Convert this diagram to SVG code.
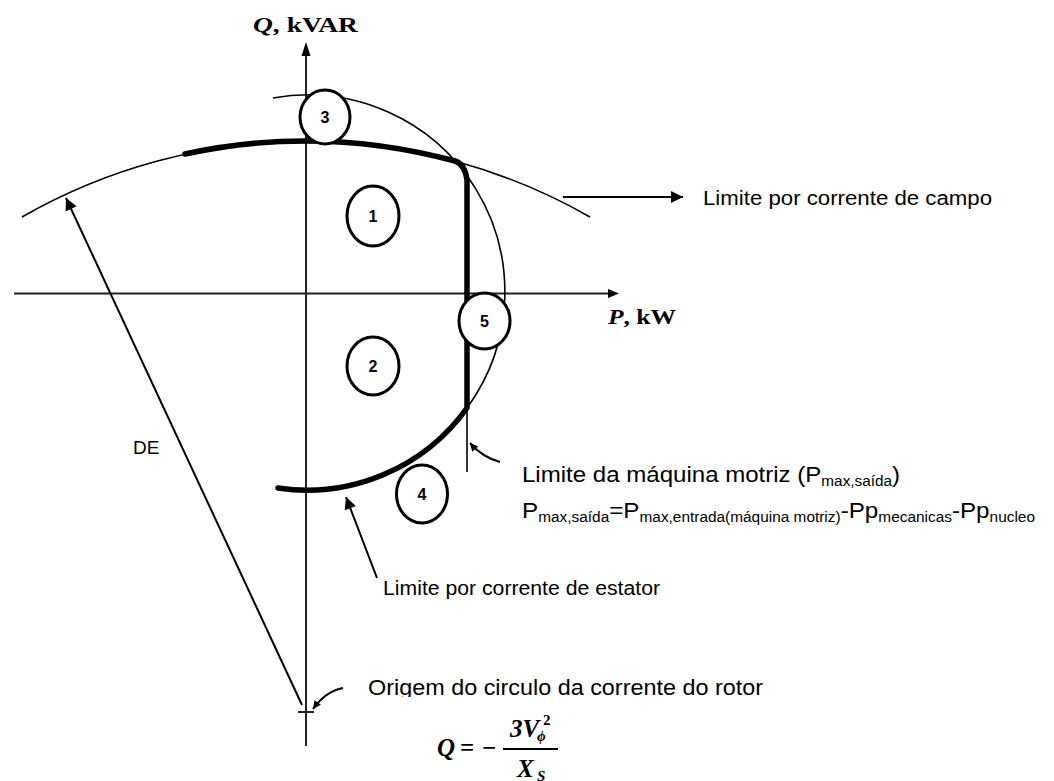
<svg xmlns="http://www.w3.org/2000/svg" width="1054" height="781" viewBox="0 0 1054 781">
<style>
.thin{fill:none;stroke:#000;stroke-width:1.6}
.thick{fill:none;stroke:#000;stroke-width:5.5;stroke-linecap:round;stroke-linejoin:round}
.axis{fill:none;stroke:#222;stroke-width:2}
.lead{fill:none;stroke:#000;stroke-width:2}
.node ellipse{fill:#fff;stroke:#000;stroke-width:3}
.node text{font-family:"Liberation Sans",Arial,sans-serif;font-weight:bold;font-size:16px;text-anchor:middle;fill:#000}
.lbl{font-family:"Liberation Sans",Arial,sans-serif;fill:#000}
.ser{font-family:"Liberation Serif","Times New Roman",serif;font-weight:bold;fill:#000}
</style>
<defs>
<marker id="ah" viewBox="0 0 10 10" refX="10" refY="5" markerWidth="16" markerHeight="12" markerUnits="userSpaceOnUse" orient="auto">
<path d="M0,0 L10,5 L0,10 z" fill="#000"/>
</marker>
<marker id="ahs" viewBox="0 0 10 10" refX="10" refY="5" markerWidth="10" markerHeight="8" markerUnits="userSpaceOnUse" orient="auto">
<path d="M0,0 L10,5 L0,10 z" fill="#000"/>
</marker>
<clipPath id="clipO"><rect x="350" y="660" width="500" height="37"/></clipPath>
</defs>
<rect width="1054" height="781" fill="#fff"/>

<g id="axes">
<line class="axis" x1="306" y1="54" x2="306" y2="746"/>
<path d="M306,42 L310.5,56 L301.5,56 z" fill="#000"/>
<line class="axis" x1="14" y1="293.5" x2="612" y2="293.5"/>
<path d="M619,293.5 L608,289 L608,298 z" fill="#000"/>
<line class="axis" x1="298" y1="712" x2="314" y2="712"/>
</g>

<g id="curves">
<path class="thin" d="M22,217 A571,571 0 0 1 590,217"/>
<path class="thin" d="M273,98 A197,197 0 0 1 467,408"/>
<line class="thin" x1="467" y1="408" x2="467" y2="472"/>
<path class="thick" d="M185,154 A571,571 0 0 1 455,161 Q465,164 467,180 L467,408 A197,197 0 0 1 278,488"/>
</g>

<g id="connectors">
<line class="lead" x1="302" y1="705" x2="66" y2="198" marker-end="url(#ah)"/>
<line class="lead" x1="563" y1="197" x2="683" y2="197" marker-end="url(#ah)"/>
<line class="lead" x1="377" y1="578" x2="346" y2="497" marker-end="url(#ah)"/>
<path class="lead" d="M500,462 Q482,457 470,443" marker-end="url(#ahs)"/>
<path class="lead" d="M343,688 Q326,691 313,709" marker-end="url(#ahs)"/>
</g>

<g id="node1" class="node"><ellipse cx="373" cy="216" rx="26" ry="30"/><text x="373" y="222">1</text></g>
<g id="node2" class="node"><ellipse cx="373" cy="366" rx="26" ry="29"/><text x="373" y="372">2</text></g>
<g id="node3" class="node"><ellipse cx="325" cy="117" rx="25" ry="27"/><text x="325" y="123">3</text></g>
<g id="node4" class="node"><ellipse cx="422" cy="494" rx="25.5" ry="29"/><text x="422" y="500">4</text></g>
<g id="node5" class="node"><ellipse cx="484.5" cy="321" rx="25.5" ry="28"/><text x="484.5" y="327">5</text></g>

<g id="labels">
<text class="ser" x="253" y="32" font-size="20" textLength="105" lengthAdjust="spacingAndGlyphs"><tspan font-style="italic">Q</tspan>, kVAR</text>
<text class="ser" x="608" y="324" font-size="20" textLength="68" lengthAdjust="spacingAndGlyphs"><tspan font-style="italic">P</tspan>, kW</text>
<text class="lbl" x="703" y="205" font-size="20" textLength="289" lengthAdjust="spacingAndGlyphs">Limite por corrente de campo</text>
<text class="lbl" x="383" y="595" font-size="20" textLength="277" lengthAdjust="spacingAndGlyphs">Limite por corrente de estator</text>
<text class="lbl" x="133" y="454" font-size="19">DE</text>
<text class="lbl" x="522" y="482" font-size="22" textLength="378" lengthAdjust="spacingAndGlyphs">Limite da máquina motriz (P<tspan font-size="14" dy="4">max,saída</tspan><tspan dy="-4">)</tspan></text>
<text class="lbl" x="522" y="518" font-size="22" textLength="513" lengthAdjust="spacingAndGlyphs">P<tspan font-size="14" dy="4">max,saída</tspan><tspan dy="-4">=P</tspan><tspan font-size="14" dy="4">max,entrada(máquina motriz)</tspan><tspan dy="-4">-Pp</tspan><tspan font-size="14" dy="4">mecanicas</tspan><tspan dy="-4">-Pp</tspan><tspan font-size="14" dy="4">nucleo</tspan></text>
<text class="lbl" x="368" y="695" font-size="22" textLength="395" lengthAdjust="spacingAndGlyphs" clip-path="url(#clipO)">Origem do circulo da corrente do rotor</text>
</g>

<g id="formula">
<text class="ser" x="437" y="756" font-size="25" font-style="italic">Q</text>
<text class="ser" x="460" y="756" font-size="25">=</text>
<text class="ser" x="482" y="756" font-size="25">−</text>
<text class="ser" x="510" y="737" font-size="25" font-style="italic">3V</text>
<text class="ser" x="537" y="741" font-size="15" font-style="italic">ϕ</text>
<text class="ser" x="543" y="725" font-size="15">2</text>
<line x1="503" y1="749" x2="558" y2="749" stroke="#000" stroke-width="2"/>
<text class="ser" x="517" y="777" font-size="25" font-style="italic">X</text>
<text class="ser" x="537" y="781" font-size="15" font-style="italic">S</text>
</g>
</svg>
